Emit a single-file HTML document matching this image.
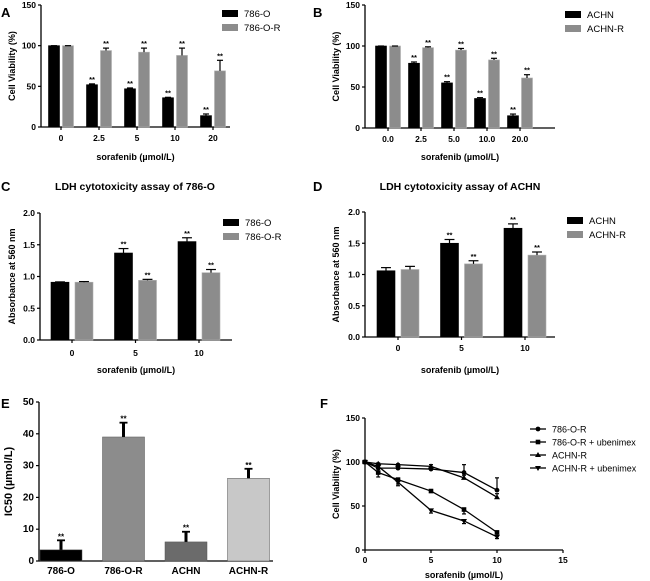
<!DOCTYPE html>
<html><head><meta charset="utf-8">
<style>
html,body{margin:0;padding:0;background:#fff;}
svg{display:block;font-family:"Liberation Sans",Arial,sans-serif;}
</style></head>
<body>
<svg id="fig" width="650" height="581" viewBox="0 0 650 581" xmlns="http://www.w3.org/2000/svg"></svg>
<script>
// ---- Panel A data ----
const aCats = ["0","2.5","5","10","20"];
const aSeries = ["786-O","786-O-R"];
const aBlack = [100,52,47,36,14];
const aBlackErr = [0,1,1,0.5,2];
const aGray = [100,94,92,88,69];
const aGrayErr = [0,3,5,9,13];
const aYTicks = [0,50,100,150];
// ---- Panel B data ----
const bCats = ["0.0","2.5","5.0","10.0","20.0"];
const bSeries = ["ACHN","ACHN-R"];
const bBlack = [100,79,55,36,15];
const bBlackErr = [0,1.5,1.5,1,2];
const bGray = [100,98,95,83,61];
const bGrayErr = [0,1,2,2,4];
const bYTicks = [0,50,100,150];
// ---- Panel C data ----
const cCats = ["0","5","10"];
const cSeries = ["786-O","786-O-R"];
const cBlack = [0.91,1.37,1.55];
const cBlackErr = [0.005,0.07,0.06];
const cGray = [0.91,0.94,1.06];
const cGrayErr = [0.01,0.015,0.05];
const cYTicks = [0,0.5,1.0,1.5,2.0];
// ---- Panel D data ----
const dCats = ["0","5","10"];
const dSeries = ["ACHN","ACHN-R"];
const dBlack = [1.06,1.50,1.74];
const dBlackErr = [0.05,0.06,0.07];
const dGray = [1.08,1.17,1.31];
const dGrayErr = [0.05,0.05,0.05];
const dYTicks = [0,0.5,1.0,1.5,2.0];
// ---- Panel E data ----
const eCats = ["786-O","786-O-R","ACHN","ACHN-R"];
const eVals = [3.5,39,6,26];
const eErr = [3,4.5,3.2,3];
const eColors = ["#000000","#8c8c8c","#6b6b6b","#c8c8c8"];
const eYTicks = [0,10,20,30,40,50];
// ---- Panel F data ----
const fX = [0,1,2.5,5,7.5,10];
const fSeriesNames = ["786-O-R","786-O-R + ubenimex","ACHN-R","ACHN-R + ubenimex"];
const fCircle = [100,93,93,92,88,68];
const fCircleErr = [0,2,2,2,9,14];
const fSquare = [100,88,80,67,46,20];
const fSquareErr = [0,5,5,1,5,4];
const fUp = [100,98,97,95,82,60];
const fUpErr = [0,1,1,2,3,4];
const fDown = [100,95,77,45,33,15];
const fDownErr = [0,2,4,3,3,2];
const fXTicks = [0,5,10,15];
const fYTicks = [0,50,100,150];

const NS = "http://www.w3.org/2000/svg";
const svg = document.getElementById('fig');
function mk(tag, attrs, name, parent){
  const el = document.createElementNS(NS, tag);
  for (const k in attrs) el.setAttribute(k, attrs[k]);
  
  
  (parent||svg).appendChild(el);
  return el;
}
function txt(x,y,s,size,name,opts){
  opts = opts||{};
  const t = mk('text',{x:x,y:y,'font-size':size,'font-weight':opts.w||'bold','text-anchor':opts.a||'middle',fill:'#000'},name,opts.p);
  if (opts.rot) t.setAttribute('transform','rotate(-90 '+x+' '+y+')');
  t.textContent = s;
  return t;
}
function yAxis(g, x, yTop, yBot, maxV, ticks, fmt, size, xEnd){
  const sy = v => yBot - (v/maxV)*(yBot-yTop);
  mk('line',{x1:x,y1:yTop,x2:x,y2:yBot,stroke:'#000','stroke-width':1.3},'y-axis-line',g);
  mk('line',{x1:x,y1:yBot,x2:xEnd,y2:yBot,stroke:'#000','stroke-width':1.3},'x-axis-line',g);
  ticks.forEach(v=>{
    mk('line',{x1:x-3,y1:sy(v),x2:x,y2:sy(v),stroke:'#000','stroke-width':1.2},'y-tick',g);
    txt(x-5,sy(v)+3,fmt(v),size,'y-tick-label',{a:'end',p:g});
  });
  return sy;
}
function errBar(g,x,yv,ye,cap,sw){
  mk('line',{x1:x,y1:yv,x2:x,y2:ye,stroke:'#000','stroke-width':sw||1.2},'error-bar',g);
  mk('line',{x1:x-cap/2,y1:ye,x2:x+cap/2,y2:ye,stroke:'#000','stroke-width':sw?1.8:1.2},'error-cap',g);
}
function barPanel(cfg){
  const g = mk('g',{},cfg.name);
  const sy = yAxis(g,cfg.x0,cfg.yTop,cfg.yBot,cfg.max,cfg.ticks,cfg.fmt,8.5,cfg.xEnd);
  cfg.cats.forEach((c,i)=>{
    const cx = cfg.c0 + i*cfg.step;
    const xb = cx - cfg.gap/2 - cfg.w, xg = cx + cfg.gap/2;
    [[xb,cfg.black,cfg.blackErr,'#000','bar-'+cfg.series[0]],[xg,cfg.gray,cfg.grayErr,'#8c8c8c','bar-'+cfg.series[1]]].forEach(([bx,vals,errs,col,nm])=>{
      const top = sy(vals[i]);
      mk('rect',{x:bx,y:top,width:cfg.w,height:cfg.yBot-top,fill:col,stroke:col==='#000'?'#000':'#b0b0b0','stroke-width':0.6},nm.toLowerCase(),g);
      const ye = sy(vals[i]+errs[i]);
      errBar(g,bx+cfg.w/2,top,ye,cfg.w*0.55);
      if (i>0) txt(bx+cfg.w/2,ye-2,'**',7.5,'significance-marker',{p:g});
    });
    mk('line',{x1:cx,y1:cfg.yBot,x2:cx,y2:cfg.yBot+3,stroke:'#000','stroke-width':1.2},'x-tick',g);
    txt(cx,cfg.tickY,c,8.5,'x-tick-label',{p:g});
  });
  txt((cfg.x0+cfg.xEnd)/2,cfg.titleY,'sorafenib (µmol/L)',9,'x-axis-title',{p:g});
  txt(cfg.yTitleX,(cfg.yTop+cfg.yBot)/2,cfg.yTitle,9,'y-axis-title',{p:g,rot:true});
  cfg.series.forEach((s,k)=>{
    const ly = cfg.legY + k*14;
    mk('rect',{x:cfg.legX,y:ly,width:16,height:7,fill:k?'#8c8c8c':'#000'},'legend-swatch',g);
    txt(cfg.legX+22,ly+7,s,9.5,'legend-label',{a:'start',w:'normal',p:g});
  });
  txt(cfg.labX,cfg.labY,cfg.label,13,'panel-label-'+cfg.label.toLowerCase(),{a:'start',p:g});
  if (cfg.title) txt(cfg.titleX,cfg.titleTop,cfg.title,10.5,'panel-title',{p:g});
}
const f0 = v=>String(v), f1 = v=>v.toFixed(1);
barPanel({name:'panel-a',label:'A',labX:1,labY:17,x0:41,xEnd:230,yTop:5,yBot:127,max:150,ticks:aYTicks,fmt:f0,
  cats:aCats,series:aSeries,black:aBlack,blackErr:aBlackErr,gray:aGray,grayErr:aGrayErr,c0:61,step:38,w:11,gap:3,
  tickY:141,titleY:160,yTitle:'Cell Viability (%)',yTitleX:15,legX:222,legY:10});
barPanel({name:'panel-b',label:'B',labX:313,labY:17,x0:365,xEnd:555,yTop:5,yBot:128,max:150,ticks:bYTicks,fmt:f0,
  cats:bCats,series:bSeries,black:bBlack,blackErr:bBlackErr,gray:bGray,grayErr:bGrayErr,c0:388,step:33,w:11,gap:3,
  tickY:142,titleY:160,yTitle:'Cell Viability (%)',yTitleX:339,legX:565,legY:11});
barPanel({name:'panel-c',label:'C',labX:1,labY:191,x0:40,xEnd:232,yTop:213,yBot:340,max:2,ticks:cYTicks,fmt:f1,
  cats:cCats,series:cSeries,black:cBlack,blackErr:cBlackErr,gray:cGray,grayErr:cGrayErr,c0:72,step:63.5,w:18,gap:6,
  tickY:356,titleY:373,yTitle:'Absorbance at 560 nm',yTitleX:15,legX:223,legY:219,
  title:'LDH cytotoxicity assay of 786-O',titleX:135,titleTop:190});
barPanel({name:'panel-d',label:'D',labX:313,labY:191,x0:365,xEnd:555,yTop:212,yBot:337,max:2,ticks:dYTicks,fmt:f1,
  cats:dCats,series:dSeries,black:dBlack,blackErr:dBlackErr,gray:dGray,grayErr:dGrayErr,c0:398,step:63.5,w:18,gap:6,
  tickY:351,titleY:373,yTitle:'Absorbance at 560 nm',yTitleX:339,legX:567,legY:217,
  title:'LDH cytotoxicity assay of ACHN',titleX:460,titleTop:190});

// ---- Panel E ----
(function(){
  const g = mk('g',{},'panel-e');
  const x0=39,yTop=402,yBot=561,xEnd=273;
  const sy = yAxis(g,x0,yTop,yBot,50,eYTicks,f0,10,xEnd);
  eCats.forEach((c,i)=>{
    const cx = 61 + i*62.5, w=42;
    const top = sy(eVals[i]);
    mk('rect',{x:cx-w/2,y:top,width:w,height:yBot-top,fill:eColors[i],stroke:'#555','stroke-width':0.5},'bar-'+c.toLowerCase(),g);
    const ye = sy(eVals[i]+eErr[i]);
    errBar(g,cx,top,ye,8,3);
    txt(cx,ye-1,'**',8,'significance-marker',{p:g});
    txt(cx,574,c,10,'x-tick-label',{p:g});
  });
  txt(12,(yTop+yBot)/2,'IC50 (µmol/L)',11,'y-axis-title',{p:g,rot:true});
  txt(1,408,'E',13,'panel-label-e',{a:'start',p:g});
})();

// ---- Panel F ----
(function(){
  const g = mk('g',{},'panel-f');
  const x0=365,yTop=418,yBot=550,xEnd=563;
  const sx = v => x0 + v/15*(xEnd-x0);
  const sy = yAxis(g,x0,yTop,yBot,150,fYTicks,f0,8.5,xEnd);
  fXTicks.forEach(v=>{
    mk('line',{x1:sx(v),y1:yBot,x2:sx(v),y2:yBot+3,stroke:'#000','stroke-width':1.2},'x-tick',g);
    txt(sx(v),563,String(v),8.5,'x-tick-label',{p:g});
  });
  txt(464,578,'sorafenib (µmol/L)',9,'x-axis-title',{p:g});
  txt(339,(yTop+yBot)/2,'Cell Viability (%)',9,'y-axis-title',{p:g,rot:true});
  txt(320,408,'F',13,'panel-label-f',{a:'start',p:g});
  function marker(x,y,type,name){
    if (type==='c') return mk('circle',{cx:x,cy:y,r:2.4,fill:'#000'},name,g);
    if (type==='s') return mk('rect',{x:x-2.3,y:y-2.3,width:4.6,height:4.6,fill:'#000'},name,g);
    if (type==='u') return mk('polygon',{points:(x)+','+(y-3)+' '+(x-3)+','+(y+2)+' '+(x+3)+','+(y+2),fill:'#000'},name,g);
    return mk('polygon',{points:(x)+','+(y+3)+' '+(x-3)+','+(y-2)+' '+(x+3)+','+(y-2),fill:'#000'},name,g);
  }
  const series = [[fCircle,fCircleErr,'c'],[fSquare,fSquareErr,'s'],[fUp,fUpErr,'u'],[fDown,fDownErr,'d']];
  series.forEach(([vals,errs,type],k)=>{
    const nm = fSeriesNames[k].toLowerCase().replace(/[^a-z0-9]+/g,'-');
    mk('polyline',{points:fX.map((x,i)=>sx(x)+','+sy(vals[i])).join(' '),fill:'none',stroke:'#000','stroke-width':1.3},'line-'+nm,g);
    fX.forEach((x,i)=>{
      if (errs[i]>0){
        errBar(g,sx(x),sy(vals[i]),sy(vals[i]+(type==='d'||type==='s'?-errs[i]:errs[i])),4);
      }
      marker(sx(x),sy(vals[i]),type,'point-'+nm);
    });
    const ly = 429 + k*13;
    mk('line',{x1:530,y1:ly,x2:546,y2:ly,stroke:'#000','stroke-width':1.3},'legend-line',g);
    marker(538,ly,type,'legend-marker');
    txt(552,ly+3.5,fSeriesNames[k],9,'legend-label',{a:'start',w:'normal',p:g});
  });
})();
</script>
</body></html>
